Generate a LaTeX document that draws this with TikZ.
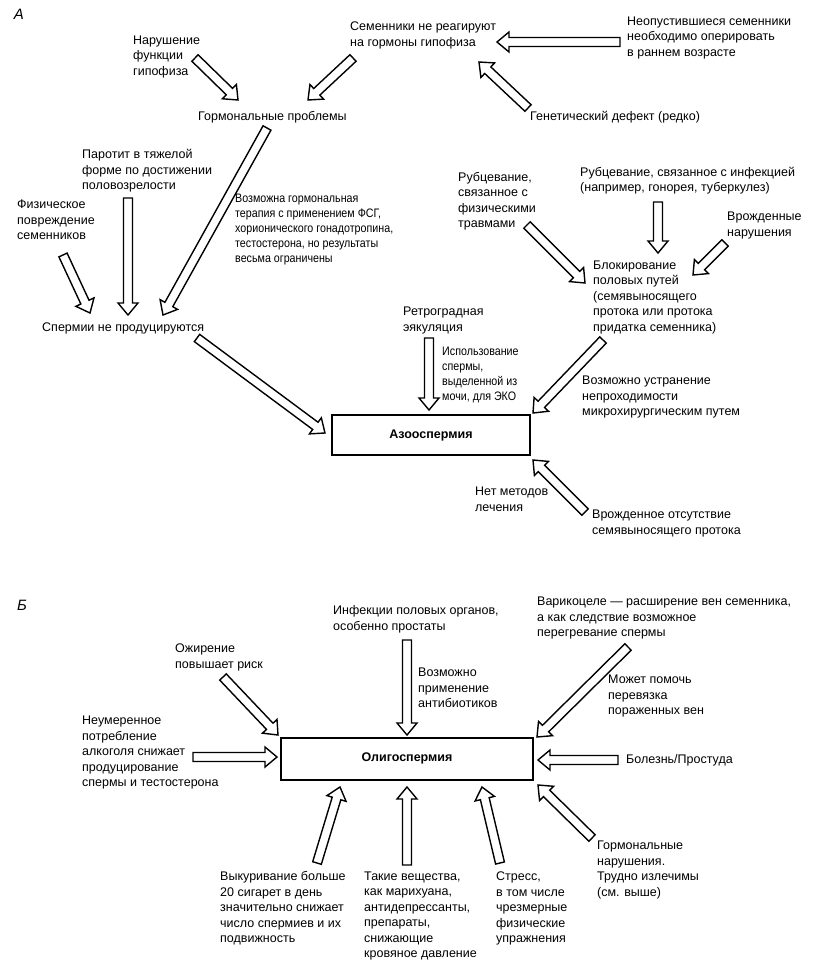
\documentclass[tikz,border=0pt]{standalone}
\usepackage{fontspec}
\setmainfont{Liberation Sans}
\newfontfamily\narrowfont[FakeStretch=0.87]{Liberation Sans}
\usetikzlibrary{calc}
\newcommand\harrow[2]{%
 \draw[harr] ($(#1)!4.5pt!90:(#2)$) -- ($(#2)!12pt!(#1)!4.5pt!-90:(#1)$) -- ($(#2)!12pt!(#1)!10pt!-90:(#1)$) -- (#2) -- ($(#2)!12pt!(#1)!10pt!90:(#1)$) -- ($(#2)!12pt!(#1)!4.5pt!90:(#1)$) -- ($(#1)!4.5pt!-90:(#2)$) -- cycle;}
\tikzset{
 txt/.style={inner sep=0pt, anchor=west, align=left, font=\fontsize{12.5}{15.5}\selectfont},
 ntxt/.style={inner sep=0pt, anchor=west, align=left, font=\narrowfont\fontsize{12.3}{15}\selectfont},
 harr/.style={line width=1.4pt, fill=white, line join=miter},
 mainbox/.style={draw, line width=1.5pt},
 lab/.style={inner sep=0pt, font=\fontsize{15}{15}\selectfont\itshape}
}
\begin{document}
\begin{tikzpicture}[x=1pt,y=-1pt]
\useasboundingbox (0,0) rectangle (823,965);
% ---------- A ----------
\node[lab] (labA) at (19,14) {А};
\node[txt] (semen) at (350,35.5) {Семенники не реагируют\\на гормоны гипофиза};
\node[txt] (neop) at (627,38) {Неопустившиеся семенники\\необходимо оперировать\\в раннем возрасте};
\node[txt] (genet) at (530,117) {Генетический дефект (редко)};
\node[txt] (narush) at (133,57) {Нарушение\\функции\\гипофиза};
\node[txt] (gorm) at (198,117) {Гормональные проблемы};
\node[txt] (parot) at (82,171) {Паротит в тяжелой\\форме по достижении\\половозрелости};
\node[txt] (fiz) at (17,220) {Физическое\\повреждение\\семенников};
\node[txt] (sperm) at (42,328) {Спермии не продуцируются};
\node[ntxt] (terap) at (235,230) {Возможна гормональная\\терапия с применением ФСГ,\\хорионического гонадотропина,\\тестостерона, но результаты\\весьма ограничены};
\node[txt] (rubtr) at (458,201) {Рубцевание,\\связанное с\\физическими\\травмами};
\node[txt] (rubinf) at (580,180.5) {Рубцевание, связанное с инфекцией\\(например, гонорея, туберкулез)};
\node[txt] (vrozhd) at (727,225.5) {Врожденные\\нарушения};
\node[txt] (blok) at (593,297) {Блокирование\\половых путей\\(семявыносящего\\протока или протока\\придатка семенника)};
\node[txt] (retro) at (403,320.5) {Ретроградная\\эякуляция};
\node[ntxt] (ispol) at (442,375) {Использование\\спермы,\\выделенной из\\мочи, для ЭКО};
\node[txt] (ustr) at (582,397) {Возможно устранение\\непроходимости\\микрохирургическим путем};
\draw[mainbox] (332,415) rectangle (530,455);
\node[inner sep=0pt, font=\fontsize{12.5}{15}\selectfont\bfseries] (azo) at (431,435) {Азооспермия};
\node[txt] (netmet) at (475,499.5) {Нет методов\\лечения};
\node[txt] (vrotsut) at (592,523.5) {Врожденное отсутствие\\семявыносящего протока};
% arrows A
\coordinate (a1t) at (620,42);  \coordinate (a1h) at (497,42);
\coordinate (a2t) at (528,108); \coordinate (a2h) at (479,62);
\coordinate (a3t) at (195,58);  \coordinate (a3h) at (238,100);
\coordinate (a4t) at (353,58);  \coordinate (a4h) at (308,100);
\coordinate (a5t) at (267,128); \coordinate (a5h) at (163,315);
\coordinate (a6t) at (128,198); \coordinate (a6h) at (128,315);
\coordinate (a7t) at (63,255);  \coordinate (a7h) at (90,313);
\coordinate (a8t) at (197,338); \coordinate (a8h) at (325,433);
\coordinate (a9t) at (527,225); \coordinate (a9h) at (585,283);
\coordinate (a10t) at (658,202); \coordinate (a10h) at (658,253);
\coordinate (a11t) at (725,243); \coordinate (a11h) at (693,275);
\coordinate (a12t) at (429,338); \coordinate (a12h) at (429,410);
\coordinate (a13t) at (603,340); \coordinate (a13h) at (533,413);
\coordinate (a14t) at (585,512); \coordinate (a14h) at (533,460);
\foreach \i in {1,...,14} {\harrow{a\i t}{a\i h}}
% ---------- B ----------
\node[lab] (labB) at (22,605) {Б};
\node[txt] (infek) at (333,619.5) {Инфекции половых органов,\\особенно простаты};
\node[txt] (antib) at (418,688) {Возможно\\применение\\антибиотиков};
\node[txt] (ozhir) at (175,657.5) {Ожирение\\повышает риск};
\node[txt] (alko) at (82,752.5) {Неумеренное\\потребление\\алкоголя снижает\\продуцирование\\спермы и тестостерона};
\draw[mainbox] (281,738) rectangle (533,780);
\node[inner sep=0pt, font=\fontsize{12.5}{15}\selectfont\bfseries] (oligo) at (407,758) {Олигоспермия};
\node[txt] (varik) at (537,618) {Варикоцеле — расширение вен семенника,\\а как следствие возможное\\перегревание спермы};
\node[txt] (mozhet) at (608,696) {Может помочь\\перевязка\\пораженных вен};
\node[txt] (bolezn) at (626,760) {Болезнь/Простуда};
\node[txt] (gormnar) at (597,870) {Гормональные\\нарушения.\\Трудно излечимы\\(см. выше)};
\node[txt] (kuren) at (220,908.5) {Выкуривание больше\\20 сигарет в день\\значительно снижает\\число спермиев и их\\подвижность};
\node[txt] (vesch) at (364,916) {Такие вещества,\\как марихуана,\\антидепрессанты,\\препараты,\\снижающие\\кровяное давление};
\node[txt] (stress) at (496,908.5) {Стресс,\\в том числе\\чрезмерные\\физические\\упражнения};
% arrows B
\coordinate (b1t) at (407,640); \coordinate (b1h) at (407,735);
\coordinate (b2t) at (223,677); \coordinate (b2h) at (278,735);
\coordinate (b3t) at (193,757); \coordinate (b3h) at (277,757);
\coordinate (b4t) at (628,647); \coordinate (b4h) at (537,737);
\coordinate (b5t) at (618,760); \coordinate (b5h) at (538,760);
\coordinate (b6t) at (317,863); \coordinate (b6h) at (340,787);
\coordinate (b7t) at (407,865); \coordinate (b7h) at (407,787);
\coordinate (b8t) at (500,863); \coordinate (b8h) at (482,787);
\coordinate (b9t) at (592,838); \coordinate (b9h) at (538,785);
\foreach \i in {1,...,9} {\harrow{b\i t}{b\i h}}
\end{tikzpicture}
\end{document}
